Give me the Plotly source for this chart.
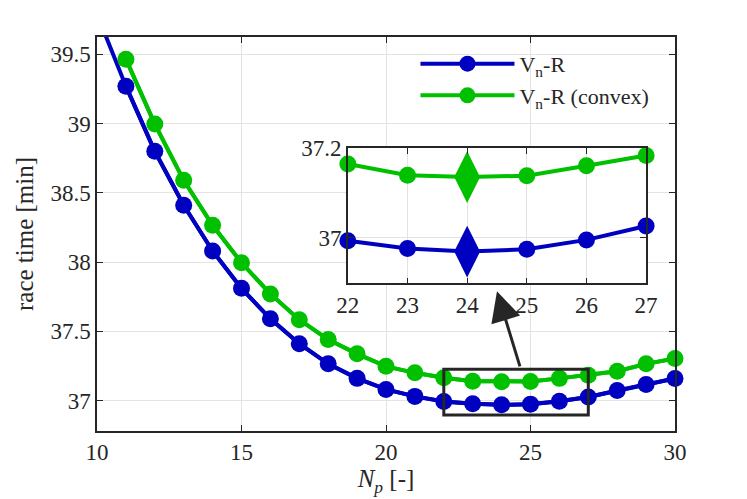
import plotly.graph_objects as go

# race time vs. number of points
np_blue = list(range(10, 31))
t_blue = [39.79, 39.27, 38.80, 38.41, 38.08, 37.81, 37.59, 37.41, 37.265, 37.16,
          37.08, 37.03, 36.993, 36.976, 36.969, 36.974, 36.995, 37.026, 37.072,
          37.115, 37.159]
np_green = list(range(11, 31))
t_green = [39.465, 38.996, 38.59, 38.265, 37.995, 37.77, 37.584, 37.44, 37.337,
           37.247, 37.2, 37.164, 37.139, 37.135, 37.138, 37.16, 37.183, 37.211,
           37.265, 37.303]
best_np = 24

BLUE = "#0000c0"
GREEN = "#00c000"
DARK = "#262626"
GRID = "#e3e3e3"
FONT = "Liberation Serif"
YMAX = 39.625
YMIN = 36.78
ZOOM_X = (22, 27)

fig = go.Figure()

series = [("V<sub>n</sub>-R", np_blue, t_blue, BLUE),
          ("V<sub>n</sub>-R (convex)", np_green, t_green, GREEN)]

for name, xs, ys, col in series:
    # full line, clipped to the axes
    fig.add_trace(go.Scatter(x=xs, y=ys, mode="lines", showlegend=False,
                             line=dict(color=col, width=4), hoverinfo="skip"))
    vis = [(a, b) for a, b in zip(xs, ys) if b <= YMAX]
    fig.add_trace(go.Scatter(x=[a for a, _ in vis], y=[b for _, b in vis],
                             mode="lines+markers", name=name, cliponaxis=False,
                             line=dict(color=col, width=4),
                             marker=dict(color=col, size=17, symbol="circle")))

# inset
for name, xs, ys, col in series:
    sub = [(a, b) for a, b in zip(xs, ys) if ZOOM_X[0] <= a <= ZOOM_X[1]]
    fig.add_trace(go.Scatter(x=[a for a, _ in sub], y=[b for _, b in sub],
                             mode="lines+markers", showlegend=False, cliponaxis=False,
                             xaxis="x2", yaxis="y2",
                             line=dict(color=col, width=4),
                             marker=dict(color=col, size=17)))
    best = [(a, b) for a, b in sub if a == best_np]
    fig.add_trace(go.Scatter(x=[a for a, _ in best], y=[b for _, b in best],
                             mode="markers", showlegend=False, cliponaxis=False,
                             xaxis="x2", yaxis="y2",
                             marker=dict(color=col, size=37, symbol="diamond-tall")))

axis_common = dict(showline=True, linecolor=DARK, linewidth=1.5, mirror="ticks",
                   ticks="inside", ticklen=6, tickcolor=DARK, showgrid=True,
                   gridcolor=GRID, gridwidth=1.2, zeroline=False,
                   tickfont=dict(family=FONT, size=23, color=DARK))

fig.update_layout(
    width=747, height=499,
    margin=dict(l=89, r=80, t=29, b=76),
    plot_bgcolor="white", paper_bgcolor="white",
    font=dict(family=FONT, color=DARK),
    xaxis=dict(range=[10, 30], tickvals=[10, 15, 20, 25, 30],
               title=dict(text="<i>N<sub>p</sub></i> [-]", font=dict(size=25), standoff=4),
               **axis_common),
    yaxis=dict(range=[YMIN, YMAX], tickvals=[37, 37.5, 38, 38.5, 39, 39.5],
               title=dict(text="race time [min]", font=dict(size=25), standoff=10),
               **axis_common),
    xaxis2=dict(domain=[0.434, 0.950], anchor="y2", range=list(ZOOM_X),
                tickvals=[22, 23, 24, 25, 26, 27], **axis_common),
    yaxis2=dict(domain=[0.3745, 0.7186], anchor="x2", range=[36.898, 37.2],
                tickvals=[37, 37.2], ticktext=["37", "37.2"], **axis_common),
    legend=dict(x=0.551, y=0.985, xanchor="left", yanchor="top",
                bgcolor="rgba(0,0,0,0)", itemwidth=94,
                font=dict(family=FONT, size=22, color=DARK), tracegroupgap=4),
    showlegend=True,
)

# zoom box and arrow on the main axes
fig.add_shape(type="rect", xref="x", yref="y", x0=22, x1=27, y0=36.895, y1=37.225,
              line=dict(color=DARK, width=3), layer="above")
fig.add_annotation(x=23.84, y=37.789, ax=24.65, ay=37.236, xref="x", yref="y",
                   axref="x", ayref="y", text="", showarrow=True, arrowhead=2,
                   arrowsize=2, arrowwidth=3, arrowcolor=DARK)

fig.write_html("out.html")
